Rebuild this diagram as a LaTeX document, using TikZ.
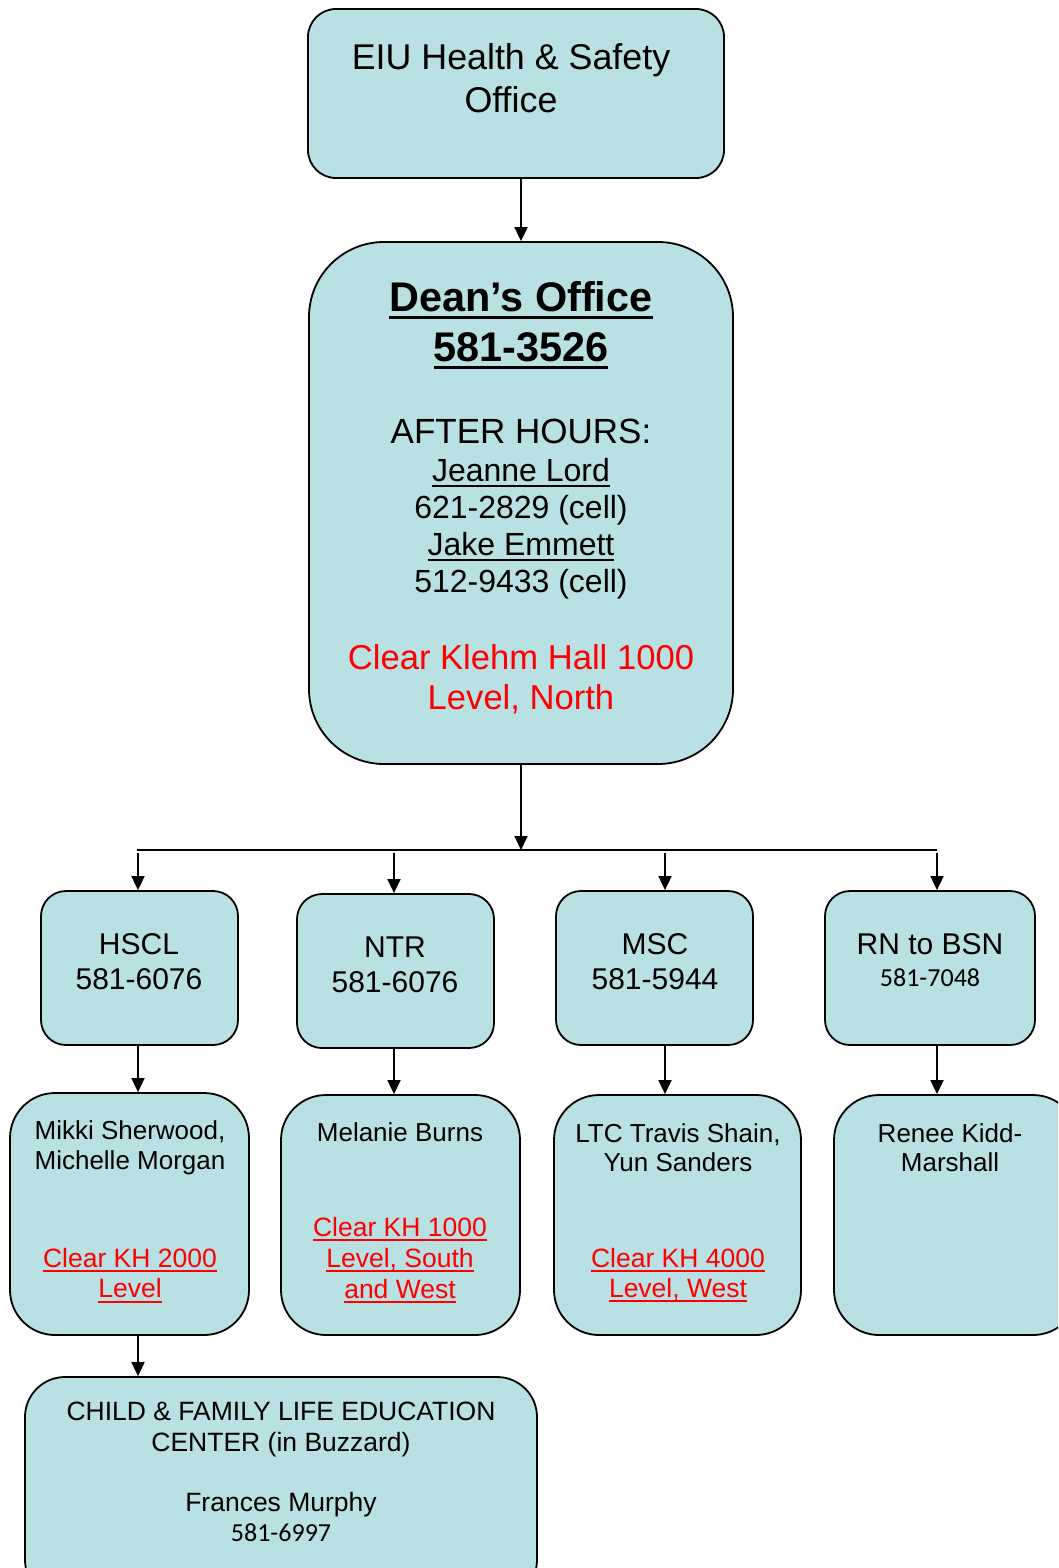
\documentclass[tikz,border=0pt]{standalone}
\usepackage{fontspec}
\setmainfont{Liberation Sans}
\newfontfamily\calibri{Carlito}
\usetikzlibrary{arrows.meta}

\definecolor{boxfill}{RGB}{185,224,227}
\definecolor{clearred}{RGB}{255,0,0}

% underline drawn with a rule below the baseline
\newlength\ulgap \setlength\ulgap{3pt}
\newlength\ulth  \setlength\ulth{2pt}
\newcommand{\undl}[1]{\setbox0\hbox{#1}\rlap{\rule[-\dimexpr\ulgap+\ulth\relax]{\wd0}{\ulth}}\box0}

\tikzset{
  box/.style={draw, line width=1.8pt, fill=boxfill, rounded corners=#1, inner sep=0pt},
  box/.default=25pt,
  txt/.style={anchor=north, align=center, inner sep=0pt},
  redtxt/.style={txt, text=clearred},
  arrow/.style={line width=1.8pt, -{Triangle[length=14pt,width=13pt]}},
}

\begin{document}
\begin{tikzpicture}[x=1pt, y=-1pt]
    \useasboundingbox (0,0) rectangle (1058,1568);
    \clip (0,0) rectangle (1058,1568);

    % top office
    \node[box=28pt, minimum width=416pt, minimum height=169pt] (safety) at (516,93.5) {};
    \node[txt, font=\fontsize{35.8}{43}\selectfont] (safetytxt) at (511,43) {EIU Health \& Safety\\Office};

    % dean's office
    \node[box=75pt, minimum width=424pt, minimum height=522pt] (dean) at (521,503) {};
    \node[txt, font=\fontsize{41.4}{50}\selectfont\bfseries\setlength\ulgap{5pt}\setlength\ulth{3pt}] (deantitle) at (521,281)
        {\undl{Dean’s Office}\\\undl{581-3526}};
    \node[txt, font=\fontsize{35}{37}\selectfont] (afterhours) at (521,419) {AFTER HOURS:};
    \node[txt, font=\fontsize{32}{37}\selectfont] (oncall) at (521,458.5)
        {\undl{Jeanne Lord}\\621-2829 (cell)\\\undl{Jake Emmett}\\512-9433 (cell)};
    \node[redtxt, font=\fontsize{34.6}{40}\selectfont] (deanclear) at (521,644) {Clear Klehm Hall 1000\\Level, North};

    % programs
    \node[box, minimum width=197pt, minimum height=154pt] (hscl) at (139.5,968) {};
    \node[box, minimum width=197pt, minimum height=154pt] (ntr) at (395.5,971) {};
    \node[box, minimum width=197pt, minimum height=154pt] (msc) at (654.5,968) {};
    \node[box, minimum width=210pt, minimum height=154pt] (rnbsn) at (930,968) {};
    \node[txt, font=\fontsize{30}{35}\selectfont] (hscltxt) at (139,933) {HSCL\\581-6076};
    \node[txt, font=\fontsize{30}{35}\selectfont] (ntrtxt) at (395,937) {NTR\\581-6076};
    \node[txt, font=\fontsize{30}{35}\selectfont] (msctxt) at (655,933) {MSC\\581-5944};
    \node[txt, font=\fontsize{30}{35}\selectfont] (rnbsntxt) at (930,933)
        {RN to BSN\\[-3pt]{\calibri\fontsize{26}{32}\selectfont 581-7048}};

    % contacts
    \node[box=45pt, minimum width=239pt, minimum height=242pt] (hsclstaff) at (129.5,1214) {};
    \node[box=45pt, minimum width=239pt, minimum height=240pt] (ntrstaff) at (400.5,1215) {};
    \node[box=45pt, minimum width=247pt, minimum height=240pt] (mscstaff) at (677.5,1215) {};
    \node[box=45pt, minimum width=244pt, minimum height=240pt] (rnstaff) at (956,1215) {};
    \node[txt, font=\fontsize{26}{30}\selectfont] (hsclnames) at (130,1120) {Mikki Sherwood,\\Michelle Morgan};
    \node[redtxt, font=\fontsize{26.5}{30.5}\selectfont] (hsclclear) at (130,1248) {\undl{Clear KH 2000}\\\undl{Level}};
    \node[txt, font=\fontsize{26}{30}\selectfont] (ntrnames) at (400,1122) {Melanie Burns};
    \node[redtxt, font=\fontsize{26.5}{31}\selectfont] (ntrclear) at (400,1217)
        {\undl{Clear KH 1000}\\\undl{Level, South}\\\undl{and West}};
    \node[txt, font=\fontsize{26}{29.5}\selectfont] (mscnames) at (678,1123) {LTC Travis Shain,\\Yun Sanders};
    \node[redtxt, font=\fontsize{26.5}{30}\selectfont] (mscclear) at (678,1248) {\undl{Clear KH 4000}\\\undl{Level, West}};
    \node[txt, font=\fontsize{26}{29.5}\selectfont] (rnnames) at (950,1123) {Renee Kidd-\\Marshall};

    % child & family centre
    \node[box=40pt, minimum width=512pt, minimum height=223pt] (child) at (281,1488.5) {};
    \node[txt, font=\fontsize{26.5}{30.5}\selectfont] (childtxt) at (281,1402) {CHILD \& FAMILY LIFE EDUCATION\\CENTER (in Buzzard)};
    \node[txt, font=\fontsize{26.5}{30}\selectfont] (childname) at (281,1492)
        {Frances Murphy\\{\calibri\fontsize{26}{30}\selectfont 581-6997}};

    % connectors
    \coordinate (bus) at (521,850);
    \coordinate (busL) at (137,850);
    \coordinate (busR) at (937,850);
    \coordinate (b1) at (138,853);
    \coordinate (b2) at (394,853);
    \coordinate (b3) at (665,853);
    \coordinate (b4) at (937,853);

    \draw[arrow] (dean.north |- safety.south) -- (dean.north);
    \draw[arrow] (dean.south) -- (bus);
    \draw[line width=1.8pt] (busL) -- (busR);
    \foreach \b/\n in {b1/hscl, b2/ntr, b3/msc, b4/rnbsn}
        \draw[arrow] (\b) -- (\b |- \n.north);
    \foreach \b/\n/\m in {b1/hscl/hsclstaff, b2/ntr/ntrstaff, b3/msc/mscstaff, b4/rnbsn/rnstaff}
        \draw[arrow] (\b |- \n.south) -- (\b |- \m.north);
    \draw[arrow] (b1 |- hsclstaff.south) -- (b1 |- child.north);

\end{tikzpicture}
\end{document}
